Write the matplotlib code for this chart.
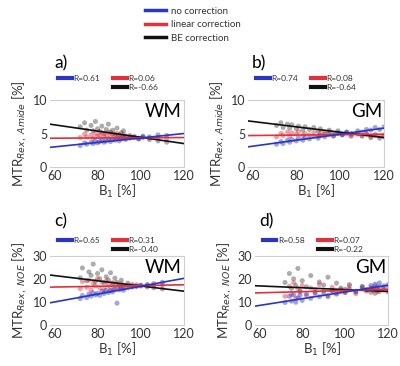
import matplotlib
matplotlib.use("Agg")
import matplotlib.pyplot as plt
from matplotlib.lines import Line2D
import numpy as np

plt.rcParams['font.family'] = ['Lato', 'DejaVu Sans']

# --- dados ---
cores = {'none': '#2a35c4', 'lin': '#e0313c', 'be': '#111111'}
rotulos_legenda = ['no correction', 'linear correction', 'BE correction']

# painel a) WM, amide
a_b1 = [72, 74, 75, 77, 78, 79, 80, 81, 82, 83, 84, 85, 86, 87, 88, 89, 90, 91, 92, 93, 95, 97, 99, 101, 104, 108, 112]
a_none = [3.2, 3.6, 3.4, 3.7, 3.5, 3.9, 3.6, 3.8, 4.0, 3.7, 3.9, 4.2, 3.8, 4.1, 4.0, 4.3, 3.9, 4.2, 4.4, 4.1, 4.3, 4.5, 4.2, 4.6, 4.5, 4.8, 4.7]
a_lin = [4.4, 4.9, 4.5, 4.8, 4.3, 5.0, 4.6, 4.7, 5.1, 4.5, 4.8, 5.2, 4.6, 4.9, 4.7, 5.0, 4.4, 4.6, 4.8, 4.3, 4.5, 4.4, 4.2, 4.5, 4.3, 4.4, 4.2]
a_be = [6.0, 6.6, 5.5, 6.2, 5.4, 6.8, 5.7, 5.3, 6.1, 5.0, 5.6, 6.4, 5.2, 5.5, 4.9, 5.8, 4.8, 5.1, 5.4, 4.6, 4.7, 4.5, 4.3, 4.4, 4.1, 3.9, 3.7]

# painel b) GM, amide
b_b1 = [71, 73, 74, 76, 77, 78, 80, 81, 83, 84, 86, 88, 90, 91, 93, 95, 97, 99, 101, 103, 105, 108, 110, 112, 114, 116, 118, 120]
b_none = [3.4, 3.8, 3.5, 4.0, 3.7, 4.1, 3.9, 4.3, 4.0, 4.4, 4.2, 4.6, 4.3, 4.7, 4.5, 4.9, 4.6, 5.1, 4.8, 5.2, 5.0, 5.4, 5.2, 5.6, 5.5, 5.9, 5.6, 6.0]
b_lin = [4.5, 5.0, 4.7, 5.2, 4.6, 5.1, 4.9, 5.3, 4.7, 5.0, 4.8, 5.2, 4.6, 5.1, 4.9, 5.3, 4.7, 5.0, 4.8, 5.1, 4.6, 4.9, 4.7, 5.0, 4.5, 4.9, 4.6, 4.8]
b_be = [6.2, 6.6, 5.9, 6.4, 5.8, 6.3, 5.7, 6.1, 5.5, 6.0, 5.6, 5.9, 5.3, 5.7, 5.2, 5.5, 5.0, 5.4, 4.9, 5.2, 4.7, 5.0, 4.6, 4.9, 4.4, 4.7, 4.3, 4.5]

# painel c) WM, NOE
c_b1 = [72, 73, 75, 76, 77, 78, 79, 80, 81, 82, 83, 84, 85, 86, 87, 88, 89, 90, 91, 92, 94, 96, 98, 100, 103, 106, 110]
c_none = [11.5, 12.8, 11.9, 13.5, 12.6, 14.0, 13.1, 13.8, 12.9, 14.6, 13.7, 15.2, 14.1, 15.0, 14.4, 15.8, 9.5, 15.3, 16.0, 15.1, 16.2, 16.5, 16.9, 17.2, 17.4, 18.0, 18.6]
c_lin = [15.8, 18.9, 16.4, 19.5, 15.2, 18.1, 17.0, 20.2, 16.1, 18.6, 15.5, 19.0, 17.3, 16.0, 18.4, 15.7, 17.8, 16.6, 18.0, 15.9, 17.2, 16.8, 17.5, 16.9, 17.6, 17.1, 17.4]
c_be = [20.5, 24.8, 19.2, 23.1, 21.6, 26.5, 18.9, 22.4, 20.1, 24.0, 18.3, 21.0, 19.6, 22.7, 17.8, 20.4, 18.6, 17.2, 19.5, 16.9, 18.2, 17.6, 16.8, 17.3, 16.5, 16.2, 15.7]

# painel d) GM, NOE
d_b1 = [72, 74, 75, 76, 77, 78, 79, 80, 82, 84, 86, 88, 90, 92, 94, 96, 98, 100, 102, 105, 108, 110, 112, 113, 114, 115, 116, 118, 120]
d_none = [9.8, 12.5, 10.4, 13.2, 9.9, 11.8, 12.9, 10.7, 13.5, 11.6, 14.2, 12.3, 13.6, 12.8, 15.0, 13.4, 14.8, 14.1, 15.6, 14.4, 16.5, 15.3, 17.2, 16.0, 17.8, 16.4, 18.3, 17.0, 17.6]
d_lin = [12.5, 16.8, 13.2, 18.4, 11.6, 15.9, 14.4, 17.2, 12.8, 16.1, 13.5, 17.6, 14.9, 12.2, 16.4, 13.8, 15.5, 14.2, 16.9, 13.6, 15.8, 14.7, 16.2, 15.0, 17.1, 14.5, 16.6, 15.2, 15.9]
d_be = [18.5, 22.4, 15.9, 20.1, 17.2, 24.6, 14.8, 19.3, 16.6, 21.5, 15.2, 18.7, 17.4, 20.8, 14.9, 18.2, 16.1, 15.5, 17.6, 14.7, 16.8, 15.3, 14.2, 16.0, 13.8, 15.1, 14.6, 15.7, 14.4]

# retas de ajuste: valor em B1=60 e em B1=120
a_fit = {'none': (3.0, 5.0), 'lin': (4.3, 4.4), 'be': (6.3, 3.5)}
b_fit = {'none': (3.1, 5.8), 'lin': (4.7, 4.9), 'be': (6.8, 4.4)}
c_fit = {'none': (10.0, 20.3), 'lin': (16.5, 17.5), 'be': (21.5, 14.7)}
d_fit = {'none': (8.5, 17.3), 'lin': (14.0, 15.5), 'be': (17.0, 14.6)}

a_r = ['R=0.61', 'R=0.06', 'R=-0.66']
b_r = ['R=0.74', 'R=0.08', 'R=-0.64']
c_r = ['R=0.65', 'R=0.31', 'R=-0.40']
d_r = ['R=0.58', 'R=0.07', 'R=-0.22']

rot_y_amide = 'MTR$_{Rex,\\ Amide}$ [%]'
rot_y_noe = 'MTR$_{Rex,\\ NOE}$ [%]'

# (letra, tecido, dados..., ylim, yticks, rótulo y, posição, y da legenda, y da letra)
paineis = [
    ('a)', 'WM', a_b1, a_none, a_lin, a_be, a_fit, a_r, (0, 10), [0, 5, 10], rot_y_amide,
     [0.125, 0.5437, 0.335, 0.183], 1.07, 1.55),
    ('b)', 'GM', b_b1, b_none, b_lin, b_be, b_fit, b_r, (0, 10), [0, 5, 10], rot_y_amide,
     [0.62, 0.5437, 0.34, 0.183], 1.07, 1.55),
    ('c)', 'WM', c_b1, c_none, c_lin, c_be, c_fit, c_r, (0, 30), [0, 10, 20, 30], rot_y_noe,
     [0.125, 0.112, 0.335, 0.1885], 0.98, 1.5),
    ('d)', 'GM', d_b1, d_none, d_lin, d_be, d_fit, d_r, (0, 30), [0, 10, 20, 30], rot_y_noe,
     [0.6375, 0.112, 0.3325, 0.1885], 0.98, 1.5),
]

XLIM = (58, 120)
CINZA = '#cfcfcf'
TXT = '#333333'

fig = plt.figure(figsize=(4.0, 3.66), dpi=100)

for letra, tecido, b1, y_none, y_lin, y_be, fit, rs, ylim, yticks, ylab, pos, y_leg, y_letra in paineis:
    ax = fig.add_axes(pos)

    # nuvens de pontos (BE atrás, depois linear, depois sem correção)
    ax.scatter(b1, y_be, s=13, color=cores['be'], alpha=0.35, edgecolors='none', zorder=1)
    ax.scatter(b1, y_lin, s=13, color=cores['lin'], alpha=0.45, edgecolors='none', zorder=1)
    ax.scatter(b1, y_none, s=13, color=cores['none'], alpha=0.45, edgecolors='none', zorder=1)

    # retas de ajuste ao longo de todo o eixo x
    xs = np.array(XLIM, dtype=float)
    for chave in ['be', 'lin', 'none']:
        y60, y120 = fit[chave]
        inc = (y120 - y60) / 60.0
        ax.plot(xs, y60 + inc * (xs - 60), color=cores[chave], lw=1.2, zorder=3)

    ax.set_xlim(*XLIM)
    ax.set_ylim(*ylim)
    ax.set_xticks([60, 80, 100, 120])
    ax.set_yticks(yticks)
    ax.tick_params(labelsize=9, colors=TXT, length=0, pad=2)
    for lado in ['top', 'right', 'bottom', 'left']:
        ax.spines[lado].set_color(CINZA)
        ax.spines[lado].set_linewidth(0.8)
    ax.spines['left'].set_visible(False)

    ax.set_xlabel('B$_1$ [%]', fontsize=9.5, color=TXT, labelpad=1)
    ax.set_ylabel(ylab, fontsize=9.5, color=TXT, labelpad=3)

    ax.text(0.985, 0.96, tecido, transform=ax.transAxes, ha='right', va='top',
            fontsize=13.5, color='black')
    ax.text(0.03, y_letra, letra, transform=ax.transAxes, ha='left', va='center',
            fontsize=12.5, color='black')

    # legenda do painel: [azul, vazio] [vermelho, preto]
    alcas = [Line2D([], [], color=cores['none'], lw=3),
             Line2D([], [], color='none', lw=0),
             Line2D([], [], color=cores['lin'], lw=3),
             Line2D([], [], color=cores['be'], lw=3)]
    nomes = [rs[0], '', rs[1], rs[2]]
    ax.legend(alcas, nomes, ncol=2, loc='lower left', bbox_to_anchor=(0.03, y_leg),
              frameon=False, fontsize=6, handlelength=1.6, handletextpad=0.2,
              columnspacing=1.6, labelspacing=0.3, borderpad=0, labelcolor=TXT)

# legenda geral no topo
alcas_topo = [Line2D([], [], color=cores[k], lw=2.5) for k in ['none', 'lin', 'be']]
fig.legend(alcas_topo, rotulos_legenda, loc='upper left', bbox_to_anchor=(0.345, 1.0),
           frameon=False, fontsize=7, handlelength=2.2, handletextpad=0.5,
           labelspacing=0.45, borderpad=0.2, labelcolor=TXT)

fig.savefig('out.png', dpi=100)
